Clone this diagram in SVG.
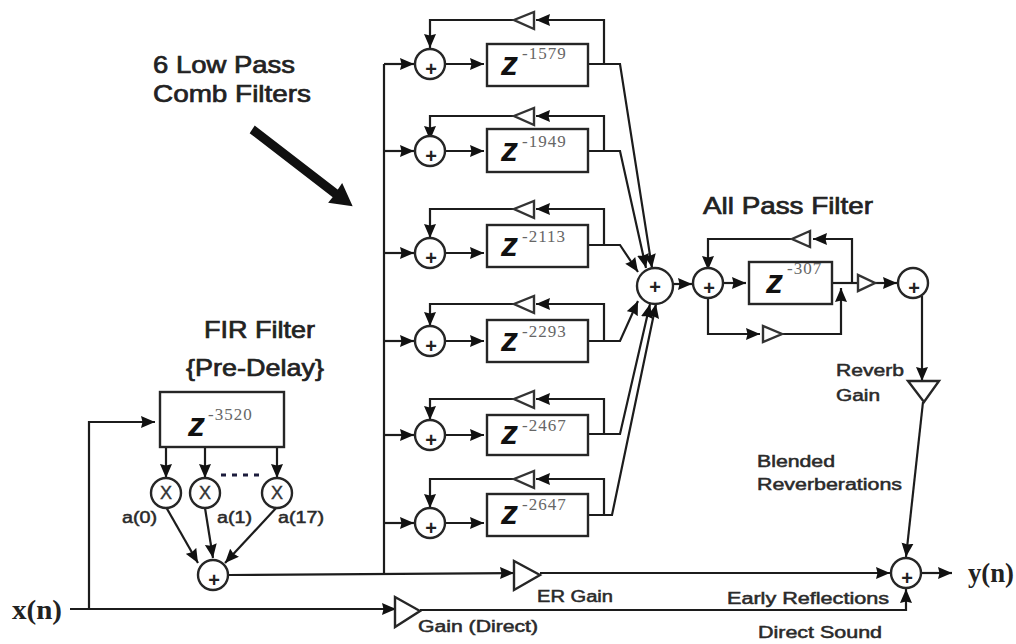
<svg xmlns="http://www.w3.org/2000/svg" width="1016" height="644" viewBox="0 0 1016 644">
<style>
.c{fill:none;stroke:#1c1c1c;stroke-width:2.2}
.a{marker-end:url(#h)}
.n{fill:#fff;stroke:#262626;stroke-width:2.4}
.g{fill:#fff;stroke:#333;stroke-width:2.4}
text{font-family:"Liberation Sans",Arial,sans-serif;fill:#222}
.p{font-size:20px;font-weight:bold;text-anchor:middle}
.x{font-size:18px;text-anchor:middle;fill:#333;stroke:#333;stroke-width:.4}
.z{font-size:34px;font-weight:bold;font-style:italic;fill:#111}
.e{font-family:"Liberation Serif","Times New Roman",serif;font-size:17px;fill:#666;letter-spacing:1px}
.t{font-size:24px;fill:#222;stroke:#222;stroke-width:.7}
.l{font-size:16px;fill:#2a2a2a;stroke:#2a2a2a;stroke-width:.5}
.s{font-family:"Liberation Serif","Times New Roman",serif;font-size:27px;font-weight:bold}
</style>
<defs>
<marker id="h" markerUnits="userSpaceOnUse" markerWidth="14" markerHeight="13" refX="14" refY="6.5" orient="auto"><path d="M0 0.5L14 6.5L0 12.5L1.5 6.5Z" fill="#111"/></marker>
</defs>
<rect width="1016" height="644" fill="#fff"/>
<g id="connectors">
<path class="c" d="M384 64V573"/>
<path class="c a" d="M384 64H414"/><path class="c a" d="M445 64H484"/>
<path class="c a" d="M384 151H414"/><path class="c a" d="M445 151H484"/>
<path class="c a" d="M384 253H414"/><path class="c a" d="M445 253H484"/>
<path class="c a" d="M384 341H414"/><path class="c a" d="M445 341H484"/>
<path class="c a" d="M384 435H414"/><path class="c a" d="M445 435H484"/>
<path class="c a" d="M384 523H414"/><path class="c a" d="M445 523H484"/>
<path class="c a" d="M604 64V20H536"/><path class="c a" d="M514 20H430V48"/>
<path class="c a" d="M604 151V116H536"/><path class="c a" d="M514 116H430V140"/>
<path class="c a" d="M604 245V209H536"/><path class="c a" d="M514 209H430V238"/>
<path class="c a" d="M604 341V304H536"/><path class="c a" d="M514 304H430V326"/>
<path class="c a" d="M604 434V399H536"/><path class="c a" d="M514 399H430V420"/>
<path class="c a" d="M604 515V479H536"/><path class="c a" d="M514 479H430V508"/>
<path class="c a" d="M588 64H620L652 268"/>
<path class="c a" d="M588 151H620L646 268"/>
<path class="c a" d="M588 245H620L638 272"/>
<path class="c a" d="M588 341H620L638 301"/>
<path class="c a" d="M588 434H620L650 304"/>
<path class="c a" d="M588 515H612L656 304"/>
<path class="c a" d="M673 284H692"/>
<path class="c a" d="M723 283H746"/>
<path class="c a" d="M852 283V239H813"/><path class="c a" d="M791 239H708V270"/>
<path class="c" d="M832 283H858"/><path class="c a" d="M875 283H897"/>
<path class="c a" d="M708 298V334H760"/><path class="c a" d="M782 334H841V288"/>
<path class="c a" d="M922 296V381"/>
<path class="c a" d="M923 402L906 557"/>
<path class="c a" d="M921 573H952"/>
<path class="c a" d="M229 575L514 573"/>
<path class="c a" d="M540 573H890"/>
<path class="c" d="M70 609H385"/>
<path class="c a" d="M385 609H396"/>
<path class="c a" d="M420 610H906V589"/>
<path class="c a" d="M89 609V422H155"/>
<path class="c a" d="M166 447V478"/><path class="c a" d="M205 447V478"/><path class="c a" d="M277 447V478"/>
<path class="c a" d="M166 507L198 563"/><path class="c a" d="M205 508L213 558"/><path class="c a" d="M277 507L225 563"/>
<path d="M255 127L338 191L342 185L351 205L330 202L334 197L251 133Z" fill="#111" stroke="#111" stroke-width="2"/>
</g>
<g id="comb1"><rect class="n" x="487" y="44" width="101" height="42"/><text class="z" x="501" y="75">z</text><text class="e" x="522" y="59">-1579</text><path class="g" d="M534 12V29L514 20Z"/></g>
<g id="sum1"><circle class="n" cx="430" cy="64" r="15"/><text class="p" x="431" y="76">+</text></g>
<g id="comb2"><rect class="n" x="487" y="129" width="101" height="43"/><text class="z" x="501" y="161">z</text><text class="e" x="522" y="147">-1949</text><path class="g" d="M534 108V125L514 116Z"/></g>
<g id="sum2"><circle class="n" cx="430" cy="151" r="15"/><text class="p" x="431" y="163">+</text></g>
<g id="comb3"><rect class="n" x="487" y="225" width="101" height="42"/><text class="z" x="501" y="256">z</text><text class="e" x="522" y="242">-2113</text><path class="g" d="M534 201V218L514 209Z"/></g>
<g id="sum3"><circle class="n" cx="430" cy="253" r="15"/><text class="p" x="431" y="265">+</text></g>
<g id="comb4"><rect class="n" x="487" y="320" width="101" height="42"/><text class="z" x="501" y="351">z</text><text class="e" x="522" y="337">-2293</text><path class="g" d="M534 296V313L514 304Z"/></g>
<g id="sum4"><circle class="n" cx="430" cy="341" r="15"/><text class="p" x="431" y="353">+</text></g>
<g id="comb5"><rect class="n" x="487" y="415" width="101" height="40"/><text class="z" x="501" y="444">z</text><text class="e" x="522" y="431">-2467</text><path class="g" d="M534 391V408L514 399Z"/></g>
<g id="sum5"><circle class="n" cx="430" cy="435" r="15"/><text class="p" x="431" y="447">+</text></g>
<g id="comb6"><rect class="n" x="487" y="494" width="101" height="42"/><text class="z" x="501" y="524">z</text><text class="e" x="522" y="510">-2647</text><path class="g" d="M534 471V488L514 479Z"/></g>
<g id="sum6"><circle class="n" cx="430" cy="523" r="15"/><text class="p" x="431" y="535">+</text></g>
<g id="mix"><circle class="n" cx="655" cy="286" r="18"/><text class="p" x="655" y="294">+</text></g>
<g id="apSum"><circle class="n" cx="708" cy="283" r="15"/><text class="p" x="709" y="295">+</text></g>
<g id="apDelay"><rect class="n" x="749" y="262" width="83" height="42"/><text class="z" x="766" y="293">z</text><text class="e" x="787" y="274">-307</text></g>
<g id="apFb"><path class="g" d="M810 231V247L792 239Z"/></g>
<g id="apFf"><path class="g" d="M763 326V342L782 334Z"/></g>
<g id="apOut"><path class="g" d="M858 275V291L875 283Z"/></g>
<g id="reverbSum"><circle class="n" cx="913" cy="283" r="15"/><text class="p" x="914" y="295">+</text></g>
<g id="reverbGain"><path class="n" d="M908 381H939L924 402Z"/></g>
<g id="outSum"><circle class="n" cx="906" cy="573" r="15"/><text class="p" x="907" y="585">+</text></g>
<g id="erGain"><path class="n" d="M514 561V590L540 575Z"/></g>
<g id="directGain"><path class="n" d="M395 597V627L420 611Z"/></g>
<g id="fir"><rect class="n" x="160" y="392" width="124" height="55"/><text class="z" x="188" y="436">z</text><text class="e" x="208" y="420">-3520</text></g>
<g id="m0"><circle class="n" cx="166" cy="493" r="15"/><text class="x" x="166" y="499">X</text></g>
<g id="m1"><circle class="n" cx="205" cy="493" r="15"/><text class="x" x="205" y="499">X</text></g>
<g id="m17"><circle class="n" cx="277" cy="493" r="15"/><text class="x" x="277" y="499">X</text></g>
<g id="firSum"><circle class="n" cx="213" cy="575" r="15"/><text class="p" x="214" y="587">+</text></g>
<path d="M221 475H226M232 475H237M243 475H248M254 475H259" stroke="#1c1c3c" stroke-width="3" fill="none"/>
<g id="labels">
<text class="t" x="153" y="73" textLength="142" lengthAdjust="spacingAndGlyphs">6 Low Pass</text>
<text class="t" x="153" y="102" textLength="158" lengthAdjust="spacingAndGlyphs">Comb Filters</text>
<text class="t" x="703" y="214" textLength="170" lengthAdjust="spacingAndGlyphs">All Pass Filter</text>
<text class="t" x="204" y="338" textLength="111" lengthAdjust="spacingAndGlyphs">FIR Filter</text>
<text class="t" x="186" y="376" textLength="138" lengthAdjust="spacingAndGlyphs">{Pre-Delay}</text>
<text class="l" x="122" y="523" textLength="35" lengthAdjust="spacingAndGlyphs">a(0)</text>
<text class="l" x="217" y="523" textLength="35" lengthAdjust="spacingAndGlyphs">a(1)</text>
<text class="l" x="278" y="523" textLength="46" lengthAdjust="spacingAndGlyphs">a(17)</text>
<text class="l" x="537" y="602" textLength="76" lengthAdjust="spacingAndGlyphs">ER Gain</text>
<text class="l" x="418" y="632" textLength="120" lengthAdjust="spacingAndGlyphs">Gain (Direct)</text>
<text class="l" x="727" y="604" textLength="162" lengthAdjust="spacingAndGlyphs">Early Reflections</text>
<text class="l" x="758" y="638" textLength="124" lengthAdjust="spacingAndGlyphs">Direct Sound</text>
<text class="l" x="757" y="467" textLength="78" lengthAdjust="spacingAndGlyphs">Blended</text>
<text class="l" x="757" y="490" textLength="145" lengthAdjust="spacingAndGlyphs">Reverberations</text>
<text class="l" x="836" y="376" textLength="68" lengthAdjust="spacingAndGlyphs">Reverb</text>
<text class="l" x="836" y="401" textLength="44" lengthAdjust="spacingAndGlyphs">Gain</text>
<text class="s" x="12" y="619" textLength="50" lengthAdjust="spacingAndGlyphs">x(n)</text>
<text class="s" x="968" y="582" textLength="46" lengthAdjust="spacingAndGlyphs">y(n)</text>
</g>
</svg>
